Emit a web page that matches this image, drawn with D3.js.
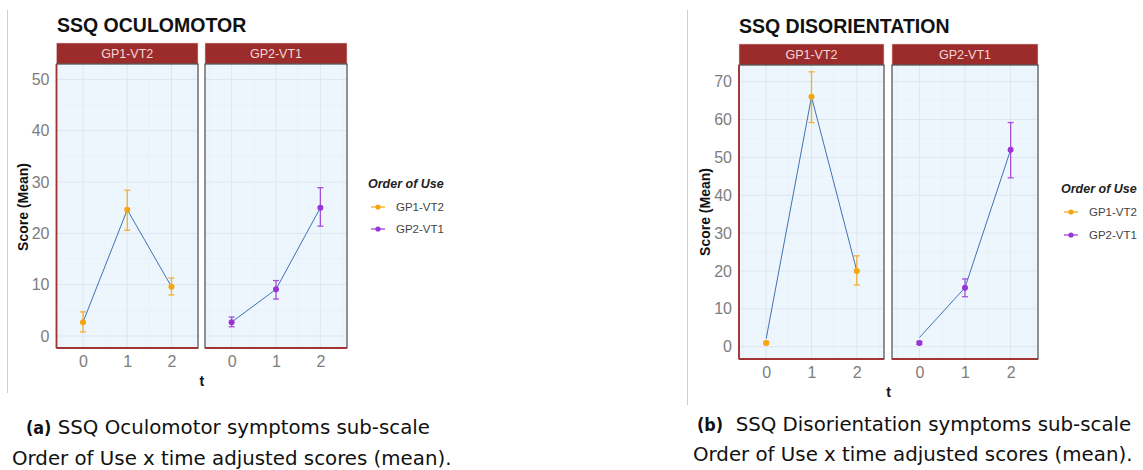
<!DOCTYPE html>
<html>
<head>
<meta charset="utf-8">
<script src="https://cdn.jsdelivr.net/npm/d3@7"></script>
<style>
  html, body { margin: 0; padding: 0; background: #ffffff; }
  svg { display: block; }
</style>
</head>
<body>
<svg id="fig" width="1143" height="470"></svg>
<script>
// ---- data -------------------------------------------------------------
const timePoints = [0, 1, 2];
const groupLabels = ["GP1-VT2", "GP2-VT1"];
const groupColors = ["#f5a50d", "#9b34d4"];

// SSQ Oculomotor: adjusted means with lower / upper error limits
const oculoMeanGP1 = [2.7, 24.6, 9.6];
const oculoLowGP1  = [0.8, 20.6, 8.0];
const oculoHighGP1 = [4.7, 28.4, 11.3];
const oculoMeanGP2 = [2.7, 9.1, 25.0];
const oculoLowGP2  = [1.8, 7.2, 21.4];
const oculoHighGP2 = [3.7, 10.8, 28.9];
const oculoTrendGP1 = [2.7, 24.6, 9.6];
const oculoTrendGP2 = [2.7, 9.1, 25.0];
const oculoTicks = [0, 10, 20, 30, 40, 50];

// SSQ Disorientation: adjusted means with lower / upper error limits
const disoMeanGP1 = [1.0, 66.0, 20.0];
const disoLowGP1  = [0.6, 59.2, 16.3];
const disoHighGP1 = [1.4, 72.6, 24.0];
const disoMeanGP2 = [1.0, 15.6, 52.0];
const disoLowGP2  = [0.6, 13.2, 44.6];
const disoHighGP2 = [1.4, 17.9, 59.2];
const disoTrendGP1 = [2.1, 66.0, 20.0];
const disoTrendGP2 = [2.4, 15.6, 52.0];
const disoTicks = [0, 10, 20, 30, 40, 50, 60, 70];

const xTickLabels = ["0", "1", "2"];
const chartTitles = ["SSQ OCULOMOTOR", "SSQ DISORIENTATION"];
const captionTags = ["(a)", "(b)"];
const captionLine1 = [" SSQ Oculomotor symptoms sub-scale", "  SSQ Disorientation symptoms sub-scale"];
const captionLine2 = ["Order of Use x time adjusted scores (mean).", "Order of Use x time adjusted scores (mean)."];

// ---- styling ----------------------------------------------------------
const FONT = "'Liberation Sans', Arial, sans-serif";
const CAPTION_FONT = "'DejaVu Sans', sans-serif";
const TAG_FONT = "'DejaVu Sans Condensed', 'DejaVu Sans', sans-serif";
const STRIP_FILL = "#9c2c2c";
const AXIS_RED = "#a23434";
const PANEL_BG = "#eef6fd";
const GRID_MAJOR = "#dde6ef";
const GRID_MINOR = "#e6eef6";
const TREND_COLOR = "#3f72b5";
const TICK_GREY = "#7d7d7d";

const svg = d3.select("#fig");
svg.append("rect").attr("width", 1143).attr("height", 470).attr("fill", "#ffffff");

function series(mean, low, high, trend) {
  return timePoints.map((t, i) => ({ t, mean: mean[i], low: low[i], high: high[i], trend: trend[i] }));
}

function drawFacetChart(cfg) {
  const g = svg.append("g");

  // thin divider on the left of the figure
  g.append("line")
    .attr("x1", cfg.divider.x).attr("x2", cfg.divider.x)
    .attr("y1", cfg.divider.y0).attr("y2", cfg.divider.y1)
    .attr("stroke", "#cfcfcf").attr("stroke-width", 1);

  // title
  g.append("text")
    .attr("x", cfg.titlePos[0]).attr("y", cfg.titlePos[1])
    .attr("font-family", FONT).attr("font-weight", "bold")
    .attr("font-size", cfg.titleSize).attr("fill", "#111")
    .text(cfg.title);

  const y = d3.scaleLinear().domain(cfg.yDomain).range([cfg.panelBottom, cfg.panelTop]);

  cfg.panels.forEach((p, pi) => {
    const x = d3.scaleLinear().domain([-0.6, 2.6]).range([p.x0, p.x1]);
    const pg = g.append("g");

    // strip
    pg.append("rect")
      .attr("x", p.x0).attr("y", cfg.stripTop)
      .attr("width", p.x1 - p.x0).attr("height", cfg.panelTop - cfg.stripTop)
      .attr("fill", STRIP_FILL).attr("stroke", "#e6c9c9").attr("stroke-width", 0.6);
    pg.append("text")
      .attr("x", (p.x0 + p.x1) / 2).attr("y", (cfg.stripTop + cfg.panelTop) / 2 + 4.5)
      .attr("text-anchor", "middle")
      .attr("font-family", FONT).attr("font-size", 12.5).attr("fill", "#f4d8d8")
      .text(groupLabels[pi]);

    // panel background
    pg.append("rect")
      .attr("x", p.x0).attr("y", cfg.panelTop)
      .attr("width", p.x1 - p.x0).attr("height", cfg.panelBottom - cfg.panelTop)
      .attr("fill", PANEL_BG);

    // minor grid
    const yMinor = cfg.yTicks.map(v => v + 5).filter(v => v < cfg.yDomain[1]);
    pg.selectAll(".ymin").data(yMinor).join("line")
      .attr("x1", p.x0).attr("x2", p.x1)
      .attr("y1", d => y(d)).attr("y2", d => y(d))
      .attr("stroke", GRID_MINOR).attr("stroke-width", 0.6);
    pg.selectAll(".xmin").data([-0.5, 0.5, 1.5, 2.5]).join("line")
      .attr("x1", d => x(d)).attr("x2", d => x(d))
      .attr("y1", cfg.panelTop).attr("y2", cfg.panelBottom)
      .attr("stroke", GRID_MINOR).attr("stroke-width", 0.6);
    // major grid
    pg.selectAll(".ymaj").data(cfg.yTicks).join("line")
      .attr("x1", p.x0).attr("x2", p.x1)
      .attr("y1", d => y(d)).attr("y2", d => y(d))
      .attr("stroke", GRID_MAJOR).attr("stroke-width", 1);
    pg.selectAll(".xmaj").data(timePoints).join("line")
      .attr("x1", d => x(d)).attr("x2", d => x(d))
      .attr("y1", cfg.panelTop).attr("y2", cfg.panelBottom)
      .attr("stroke", GRID_MAJOR).attr("stroke-width", 1);

    // panel border
    pg.append("rect")
      .attr("x", p.x0).attr("y", cfg.panelTop)
      .attr("width", p.x1 - p.x0).attr("height", cfg.panelBottom - cfg.panelTop)
      .attr("fill", "none").attr("stroke", "#3a3a3a").attr("stroke-width", 1.1);

    // bottom axis (red line, grey labels)
    const xAxis = d3.axisBottom(x).tickValues(timePoints)
      .tickFormat((d, i) => xTickLabels[i]).tickSize(0).tickPadding(8);
    const xa = pg.append("g").attr("transform", `translate(0,${cfg.panelBottom})`).call(xAxis);
    xa.select(".domain").remove();
    xa.selectAll("text").attr("font-family", FONT).attr("font-size", 16).attr("fill", TICK_GREY);
    pg.append("line")
      .attr("x1", p.x0).attr("x2", p.x1)
      .attr("y1", cfg.panelBottom).attr("y2", cfg.panelBottom)
      .attr("stroke", AXIS_RED).attr("stroke-width", 1.8);

    if (pi === 0) {
      const yAxis = d3.axisLeft(y).tickValues(cfg.yTicks).tickSize(0).tickPadding(7);
      const ya = pg.append("g").attr("transform", `translate(${p.x0},0)`).call(yAxis);
      ya.select(".domain").remove();
      ya.selectAll("text").attr("font-family", FONT).attr("font-size", 16).attr("fill", TICK_GREY);
      pg.append("line")
        .attr("x1", p.x0).attr("x2", p.x0)
        .attr("y1", cfg.panelTop).attr("y2", cfg.panelBottom)
        .attr("stroke", AXIS_RED).attr("stroke-width", 1.8);
    }

    // trend line
    const data = cfg.data[pi];
    const line = d3.line().x(d => x(d.t)).y(d => y(d.trend));
    pg.append("path").datum(data)
      .attr("d", line).attr("fill", "none")
      .attr("stroke", TREND_COLOR).attr("stroke-width", 1);

    // error bars
    const col = groupColors[pi];
    const eb = pg.selectAll(".eb").data(data).join("g").attr("opacity", 0.85);
    eb.append("line")
      .attr("x1", d => x(d.t)).attr("x2", d => x(d.t))
      .attr("y1", d => y(d.low)).attr("y2", d => y(d.high))
      .attr("stroke", col).attr("stroke-width", 1.3);
    eb.append("line")
      .attr("x1", d => x(d.t) - 3).attr("x2", d => x(d.t) + 3)
      .attr("y1", d => y(d.low)).attr("y2", d => y(d.low))
      .attr("stroke", col).attr("stroke-width", 1.3);
    eb.append("line")
      .attr("x1", d => x(d.t) - 3).attr("x2", d => x(d.t) + 3)
      .attr("y1", d => y(d.high)).attr("y2", d => y(d.high))
      .attr("stroke", col).attr("stroke-width", 1.3);

    // mean points
    pg.selectAll(".pt").data(data).join("circle")
      .attr("cx", d => x(d.t)).attr("cy", d => y(d.mean)).attr("r", 3)
      .attr("fill", col);
  });

  // axis titles
  const left = cfg.panels[0].x0, right = cfg.panels[1].x1;
  g.append("text")
    .attr("x", (left + right) / 2).attr("y", cfg.xTitleY)
    .attr("text-anchor", "middle")
    .attr("font-family", FONT).attr("font-weight", "bold").attr("font-size", 14).attr("fill", "#111")
    .text("t");
  g.append("text")
    .attr("transform", `translate(${cfg.yTitlePos[0]},${cfg.yTitlePos[1]}) rotate(-90)`)
    .attr("text-anchor", "middle")
    .attr("font-family", FONT).attr("font-weight", "bold").attr("font-size", 14).attr("fill", "#111")
    .text("Score (Mean)");

  // legend
  const lg = g.append("g").attr("transform", `translate(${cfg.legendPos[0]},${cfg.legendPos[1]})`);
  lg.append("text")
    .attr("x", 0).attr("y", 0)
    .attr("font-family", FONT).attr("font-weight", "bold").attr("font-style", "italic")
    .attr("font-size", 12.5).attr("fill", "#222")
    .text("Order of Use");
  groupLabels.forEach((lab, i) => {
    const yy = 23 + i * cfg.legendStep;
    lg.append("line").attr("x1", 3).attr("x2", 17).attr("y1", yy - 4).attr("y2", yy - 4)
      .attr("stroke", groupColors[i]).attr("stroke-width", 1.2);
    lg.append("circle").attr("cx", 10).attr("cy", yy - 4).attr("r", 2.6).attr("fill", groupColors[i]);
    lg.append("text").attr("x", 28).attr("y", yy)
      .attr("font-family", FONT).attr("font-size", 11.5).attr("fill", "#444")
      .text(lab);
  });

  // caption
  const c1 = g.append("text")
    .attr("x", cfg.caption1Pos[0]).attr("y", cfg.caption1Pos[1])
    .attr("font-family", CAPTION_FONT).attr("font-size", cfg.captionSize).attr("fill", "#111");
  c1.append("tspan").attr("font-family", TAG_FONT).attr("font-weight", "bold")
    .attr("font-size", cfg.captionSize - 2).text(cfg.captionTag);
  c1.append("tspan").attr("xml:space", "preserve").text(cfg.caption1);
  g.append("text")
    .attr("x", cfg.caption2Pos[0]).attr("y", cfg.caption2Pos[1])
    .attr("font-family", CAPTION_FONT).attr("font-size", cfg.captionSize).attr("fill", "#111")
    .text(cfg.caption2);
}

drawFacetChart({
  title: chartTitles[0], titlePos: [57, 32], titleSize: 19.5,
  divider: { x: 7.5, y0: 10, y1: 393 },
  stripTop: 43, panelTop: 64, panelBottom: 348,
  panels: [{ x0: 56.5, x1: 198 }, { x0: 205, x1: 347 }],
  yDomain: [-2.34, 53.0], yTicks: oculoTicks,
  data: [series(oculoMeanGP1, oculoLowGP1, oculoHighGP1, oculoTrendGP1),
         series(oculoMeanGP2, oculoLowGP2, oculoHighGP2, oculoTrendGP2)],
  xTitleY: 386, yTitlePos: [28, 207],
  legendPos: [368, 188], legendStep: 22,
  captionTag: captionTags[0], caption1: captionLine1[0], caption2: captionLine2[0],
  caption1Pos: [26, 434], caption2Pos: [12, 465], captionSize: 19.8
});

drawFacetChart({
  title: chartTitles[1], titlePos: [739, 33], titleSize: 19.5,
  divider: { x: 687.5, y0: 10, y1: 405 },
  stripTop: 44, panelTop: 65, panelBottom: 359,
  panels: [{ x0: 739, x1: 884 }, { x0: 892, x1: 1038 }],
  yDomain: [-3.25, 74.4], yTicks: disoTicks,
  data: [series(disoMeanGP1, disoLowGP1, disoHighGP1, disoTrendGP1),
         series(disoMeanGP2, disoLowGP2, disoHighGP2, disoTrendGP2)],
  xTitleY: 397, yTitlePos: [710, 212],
  legendPos: [1061, 193], legendStep: 23,
  captionTag: captionTags[1], caption1: captionLine1[1], caption2: captionLine2[1],
  caption1Pos: [697, 431], caption2Pos: [693, 461], captionSize: 19.8
});
</script>
</body>
</html>
